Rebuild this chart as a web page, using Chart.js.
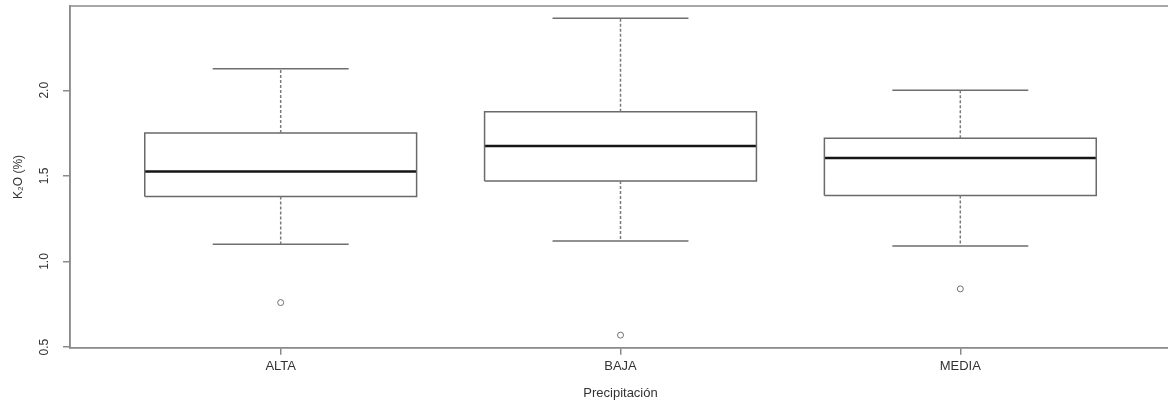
<!DOCTYPE html>
<html>
<head>
<meta charset="utf-8">
<script src="https://cdn.jsdelivr.net/npm/chart.js@4"></script>
<style>
  html, body { margin: 0; padding: 0; background: #fff; overflow: hidden; }
  .wrap { width: 1168px; height: 401px; overflow: hidden; }
</style>
</head>
<body>
<div class="wrap"><canvas id="boxChart" width="1176" height="401"></canvas></div>
<script>
// boxplot K2O (%) por precipitacion
const categories = ['ALTA', 'BAJA', 'MEDIA'];
const lowWhisker = [1.10, 1.12, 1.09];
const q1 = [1.38, 1.47, 1.385];
const medians = [1.525, 1.675, 1.605];
const q3 = [1.75, 1.875, 1.72];
const highWhisker = [2.125, 2.42, 2.0];
const outliers = [[0.76], [0.57], [0.84]];
const yTicks = [0.5, 1.0, 1.5, 2.0];

const FONT = "'Liberation Sans', Arial, sans-serif";
const BOX_HALF = 0.4;
const CAP_HALF = 0.2;

// build line segments, separated by null points so the line breaks
const boxPts = [], medPts = [], whiskPts = [], capPts = [], outPts = [];
categories.forEach((c, i) => {
    const x = i + 1;
    boxPts.push(
        { x: x - BOX_HALF, y: q1[i] }, { x: x + BOX_HALF, y: q1[i] },
        { x: x + BOX_HALF, y: q3[i] }, { x: x - BOX_HALF, y: q3[i] },
        { x: x - BOX_HALF, y: q1[i] }, { x: x, y: null }
    );
    medPts.push({ x: x - BOX_HALF, y: medians[i] }, { x: x + BOX_HALF, y: medians[i] }, { x: x, y: null });
    whiskPts.push(
        { x: x, y: q3[i] }, { x: x, y: highWhisker[i] }, { x: x, y: null },
        { x: x, y: q1[i] }, { x: x, y: lowWhisker[i] }, { x: x, y: null }
    );
    capPts.push(
        { x: x - CAP_HALF, y: highWhisker[i] }, { x: x + CAP_HALF, y: highWhisker[i] }, { x: x, y: null },
        { x: x - CAP_HALF, y: lowWhisker[i] }, { x: x + CAP_HALF, y: lowWhisker[i] }, { x: x, y: null }
    );
    outliers[i].forEach(v => outPts.push({ x: x, y: v }));
});

const segment = (data, color, width, dash) => ({
    type: 'line',
    data: data,
    borderColor: color,
    borderWidth: width,
    borderDash: dash || [],
    pointRadius: 0,
    fill: false,
    tension: 0,
    spanGaps: false
});

// frame + rotated y tick labels (R style)
const framePlugin = {
    id: 'frame',
    afterDraw(chart) {
        const { ctx, chartArea: a, scales: { y } } = chart;
        ctx.save();
        ctx.strokeStyle = '#8a8a8a';
        ctx.lineWidth = 1.5;
        ctx.strokeRect(a.left, a.top, a.right - a.left, a.bottom - a.top);
        ctx.fillStyle = '#333';
        ctx.font = '12px ' + FONT;
        ctx.textAlign = 'center';
        ctx.textBaseline = 'middle';
        y.ticks.forEach(t => {
            ctx.save();
            ctx.translate(45, y.getPixelForValue(t.value));
            ctx.rotate(-Math.PI / 2);
            ctx.fillText(t.value.toFixed(1), 0, 0);
            ctx.restore();
        });
        ctx.restore();
    }
};

new Chart(document.getElementById('boxChart'), {
    type: 'line',
    data: {
        datasets: [
            segment(whiskPts, '#7a7a7a', 1.5, [3, 2]),
            segment(capPts, '#6e6e6e', 1.5),
            segment(boxPts, '#6a6a6a', 1.5),
            segment(medPts, '#151515', 2.5),
            {
                type: 'scatter',
                data: outPts,
                showLine: false,
                pointStyle: 'circle',
                pointRadius: 3,
                borderWidth: 1,
                borderColor: '#707070',
                backgroundColor: '#fff'
            }
        ]
    },
    options: {
        responsive: false,
        animation: false,
        layout: { padding: { top: 6, left: 0, right: 0, bottom: 0 } },
        plugins: { legend: { display: false }, tooltip: { enabled: false } },
        scales: {
            x: {
                type: 'linear',
                min: 0.38,
                max: 3.62,
                afterBuildTicks: s => { s.ticks = categories.map((c, i) => ({ value: i + 1 })); },
                ticks: {
                    padding: 4,
                    color: '#333',
                    font: { family: FONT, size: 13 },
                    callback: v => categories[v - 1]
                },
                grid: { drawOnChartArea: false, drawTicks: true, tickLength: 7, color: '#8a8a8a', lineWidth: 1.5 },
                border: { display: true, color: '#8a8a8a', width: 1.5 },
                title: {
                    display: true,
                    text: 'Precipitación',
                    color: '#333',
                    font: { family: FONT, size: 13 },
                    padding: { top: 7, bottom: 0 }
                }
            },
            y: {
                type: 'linear',
                min: 0.496,
                max: 2.492,
                afterBuildTicks: s => { s.ticks = yTicks.map(v => ({ value: v })); },
                ticks: { display: false },
                grid: { drawOnChartArea: false, drawTicks: true, tickLength: 7, color: '#8a8a8a', lineWidth: 1.5 },
                border: { display: true, color: '#8a8a8a', width: 1.5 },
                title: {
                    display: true,
                    text: 'K₂O (%)',
                    color: '#333',
                    font: { family: FONT, size: 12 },
                    padding: { top: 11, bottom: 37.6 }
                }
            }
        }
    },
    plugins: [framePlugin]
});
</script>
</body>
</html>
